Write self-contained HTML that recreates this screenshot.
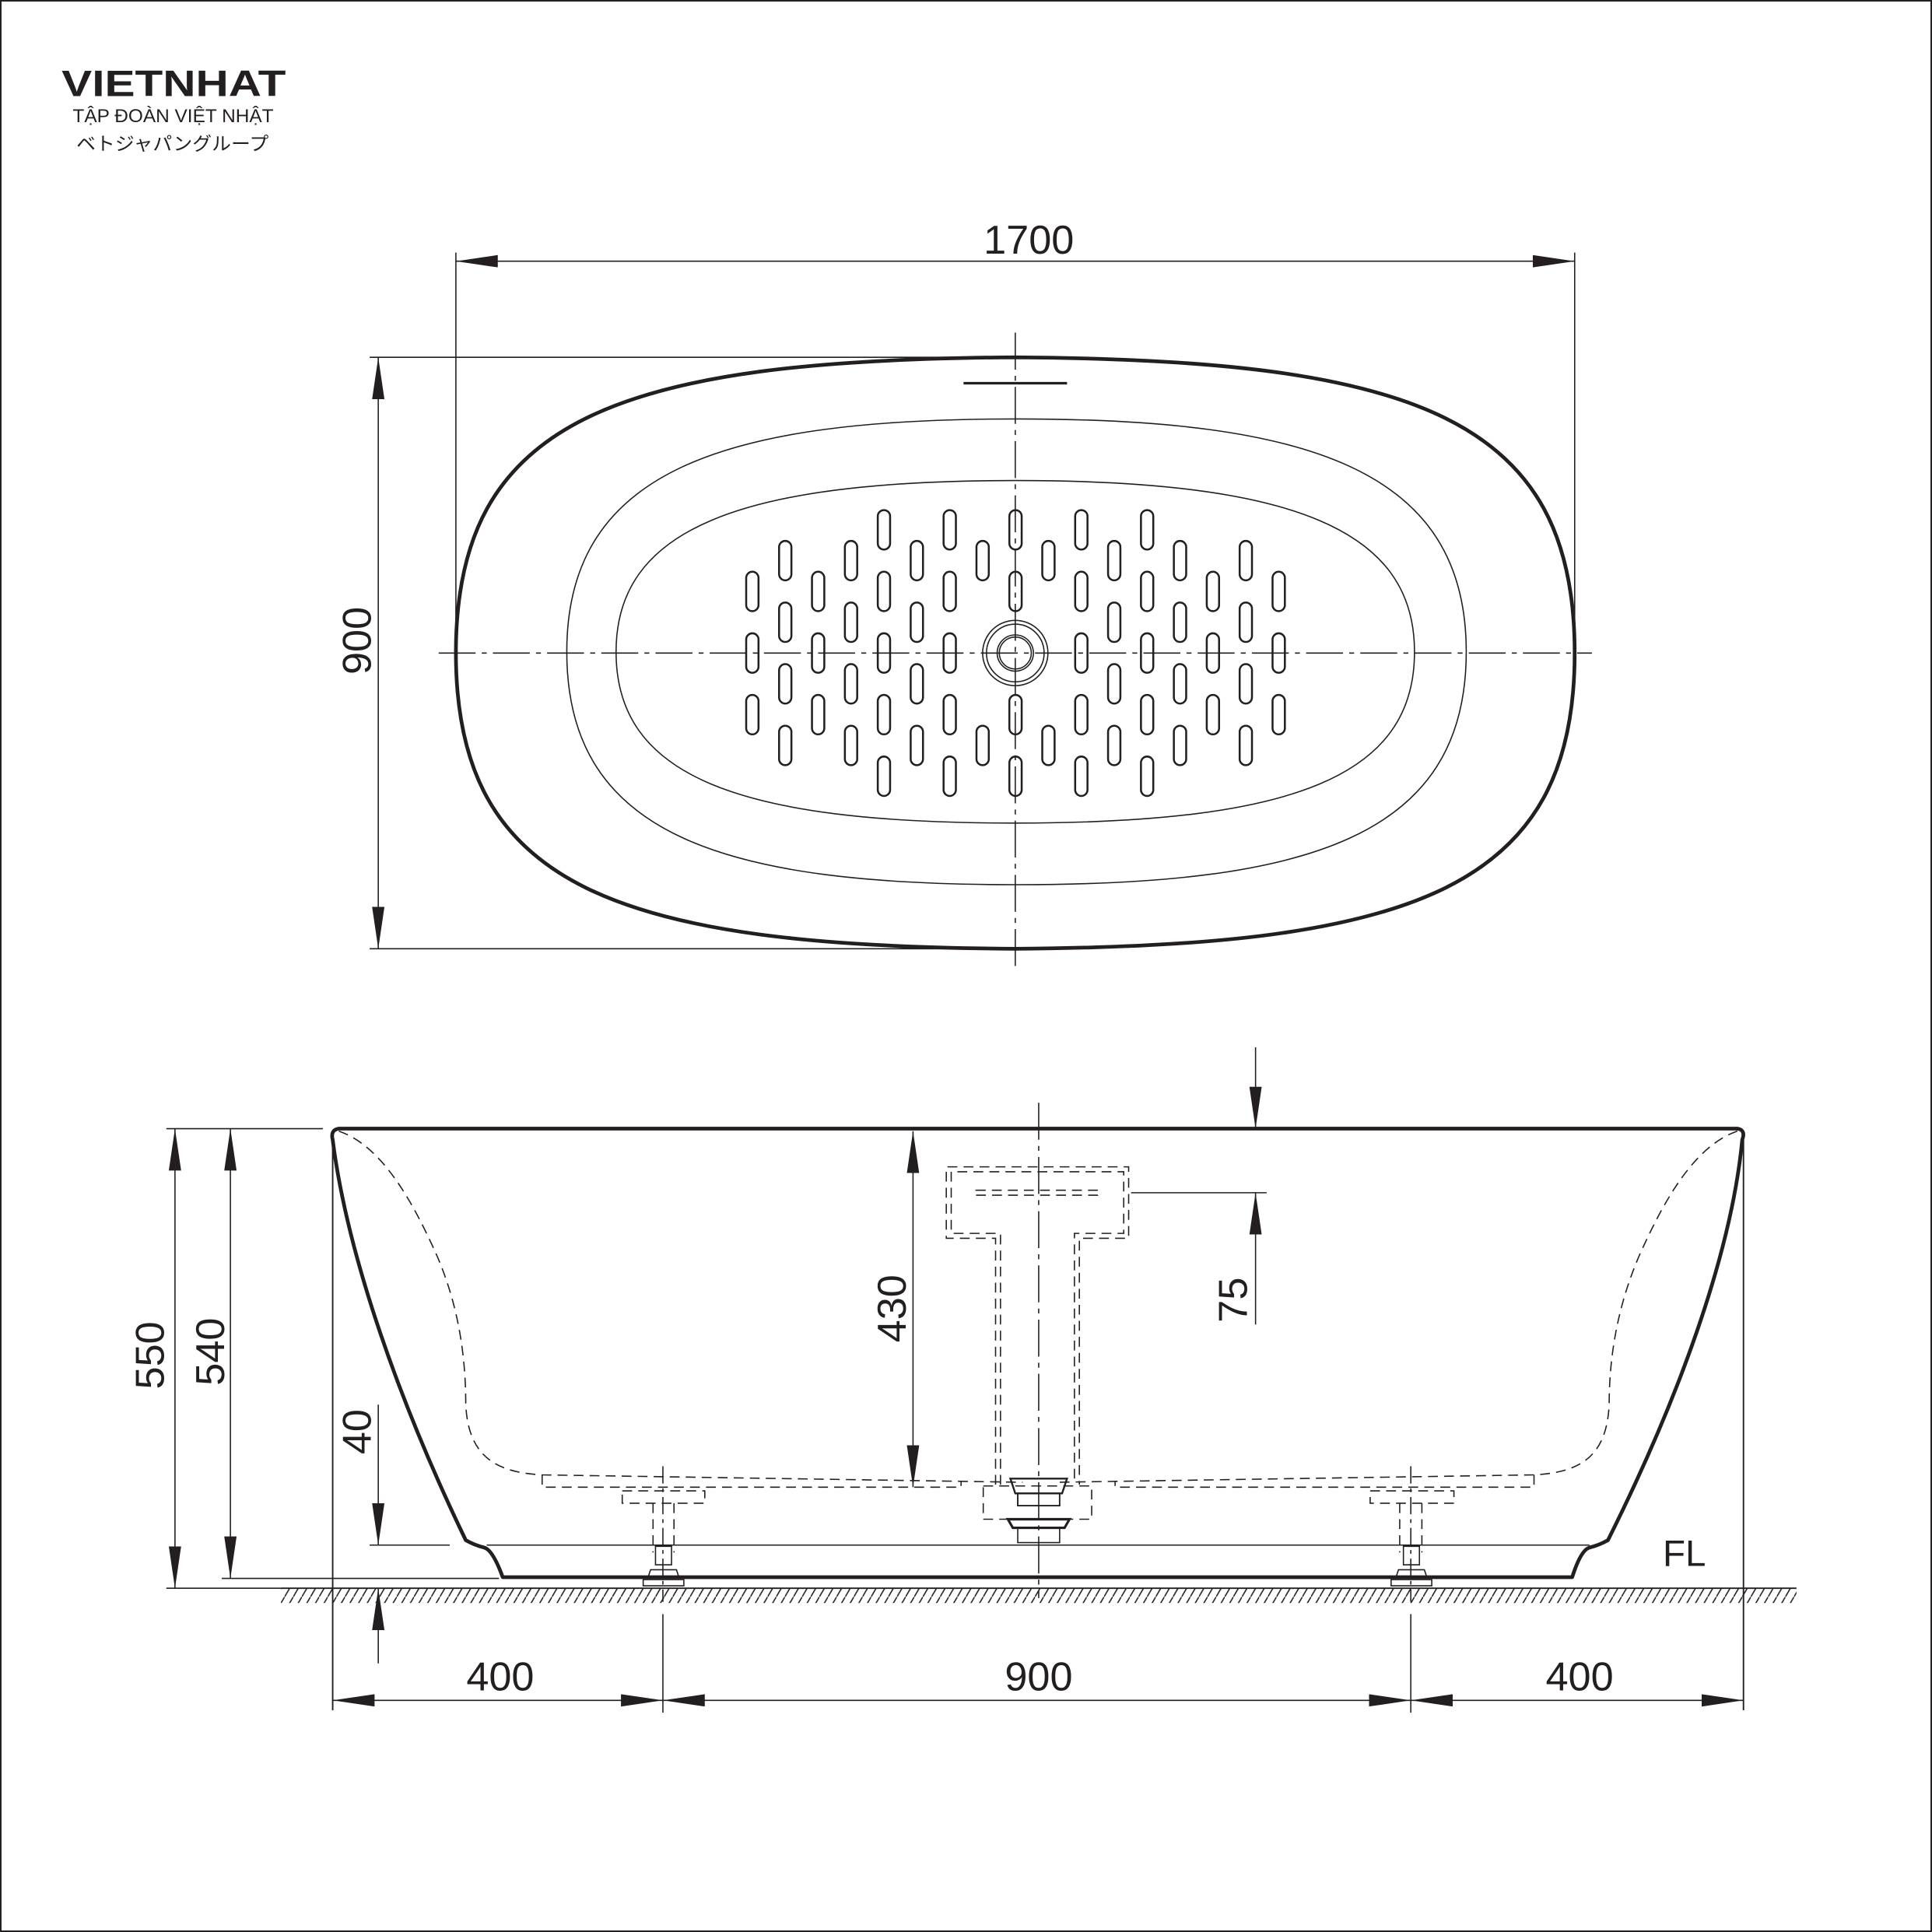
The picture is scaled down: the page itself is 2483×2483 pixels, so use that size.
<!DOCTYPE html>
<html><head><meta charset="utf-8"><style>
html,body{margin:0;padding:0;background:#fff}
svg{display:block}
text{font-family:"Liberation Sans","Noto Sans CJK JP",sans-serif;fill:#231f20}
</style></head><body>
<svg width="2483" height="2483" viewBox="0 0 1568 1568" xmlns="http://www.w3.org/2000/svg">
<defs>
<marker id="a" markerUnits="userSpaceOnUse" markerWidth="36" markerHeight="12" refX="34" refY="5" orient="auto-start-reverse"><path d="M0,0 L34,5 L0,10 z" fill="#231f20"/></marker>
<pattern id="h" patternUnits="userSpaceOnUse" width="7" height="12"><line x1="0" y1="12" x2="7" y2="0" stroke="#231f20" stroke-width="1"/></pattern>
<symbol id="o" overflow="visible"><rect x="-5" y="-16" width="10" height="32" rx="5" fill="none" stroke="#231f20" stroke-width="1.6"/></symbol>
</defs>
<rect x="0.5" y="0.5" width="1567" height="1567" fill="#fff" stroke="#231f20" stroke-width="1.5"/>
<!-- logo -->
<text x="50" y="78" font-size="30" font-weight="bold" textLength="182" lengthAdjust="spacingAndGlyphs">VIETNHAT</text>
<text x="59" y="99" font-size="15" textLength="163" lengthAdjust="spacingAndGlyphs">TẬP ĐOÀN VIỆT NHẬT</text>
<text x="62" y="122" font-size="15" textLength="156" lengthAdjust="spacingAndGlyphs">ベトジャパングループ</text>

<g stroke="#231f20" fill="none">
<!-- top view dims -->
<line x1="370" y1="205" x2="370" y2="530" stroke-width="1"/>
<line x1="1278" y1="205" x2="1278" y2="525" stroke-width="1"/>
<line x1="370" y1="212" x2="1278" y2="212" stroke-width="1" marker-start="url(#a)" marker-end="url(#a)"/>
<line x1="300" y1="290" x2="824" y2="290" stroke-width="1"/>
<line x1="300" y1="770" x2="824" y2="770" stroke-width="1"/>
<line x1="307" y1="290" x2="307" y2="770" stroke-width="1" marker-start="url(#a)" marker-end="url(#a)"/>
<!-- tub top -->
<path d="M824,290 C1150,292 1278,340 1278,530 C1278,720 1150,768 824,770 C500,768 370,720 370,530 C370,340 500,292 824,290 Z" stroke-width="3"/>
<path d="M825,340 C1060,340 1190,380 1190,529 C1190,680 1060,718 825,718 C590,718 460,680 460,529 C460,380 590,340 825,340 Z" stroke-width="1"/>
<path d="M824,390 C1050,390 1148,430 1148,529 C1148,630 1050,668 824,668 C598,668 500,630 500,529 C500,430 598,390 824,390 Z" stroke-width="1"/>
<line x1="782" y1="311" x2="866" y2="311" stroke-width="2"/>
<line x1="356" y1="530" x2="1292" y2="530" stroke-width="1" stroke-dasharray="30,5,4,5"/>
<line x1="824" y1="270" x2="824" y2="785" stroke-width="1" stroke-dasharray="30,5,4,5"/>
<circle cx="824" cy="530" r="26.5" stroke-width="1"/>
<circle cx="824" cy="530" r="23.4" stroke-width="1"/>
<circle cx="824" cy="530" r="14.7" stroke-width="1"/>
<circle cx="824" cy="530" r="13" stroke-width="1"/>
</g>
<g>
<use href="#o" x="610.6" y="480"/><use href="#o" x="610.6" y="530"/><use href="#o" x="610.6" y="580"/>
<use href="#o" x="637.3" y="455"/><use href="#o" x="637.3" y="505"/><use href="#o" x="637.3" y="555"/><use href="#o" x="637.3" y="605"/>
<use href="#o" x="664" y="480"/><use href="#o" x="664" y="530"/><use href="#o" x="664" y="580"/>
<use href="#o" x="690.7" y="455"/><use href="#o" x="690.7" y="505"/><use href="#o" x="690.7" y="555"/><use href="#o" x="690.7" y="605"/>
<use href="#o" x="717.4" y="430"/><use href="#o" x="717.4" y="480"/><use href="#o" x="717.4" y="530"/><use href="#o" x="717.4" y="580"/><use href="#o" x="717.4" y="630"/>
<use href="#o" x="744.1" y="455"/><use href="#o" x="744.1" y="505"/><use href="#o" x="744.1" y="555"/><use href="#o" x="744.1" y="605"/>
<use href="#o" x="770.8" y="430"/><use href="#o" x="770.8" y="480"/><use href="#o" x="770.8" y="530"/><use href="#o" x="770.8" y="580"/><use href="#o" x="770.8" y="630"/>
<use href="#o" x="797.5" y="455"/><use href="#o" x="797.5" y="605"/>
<use href="#o" x="824.2" y="430"/><use href="#o" x="824.2" y="480"/><use href="#o" x="824.2" y="580"/><use href="#o" x="824.2" y="630"/>
<use href="#o" x="850.9" y="455"/><use href="#o" x="850.9" y="605"/>
<use href="#o" x="877.6" y="430"/><use href="#o" x="877.6" y="480"/><use href="#o" x="877.6" y="530"/><use href="#o" x="877.6" y="580"/><use href="#o" x="877.6" y="630"/>
<use href="#o" x="904.3" y="455"/><use href="#o" x="904.3" y="505"/><use href="#o" x="904.3" y="555"/><use href="#o" x="904.3" y="605"/>
<use href="#o" x="931" y="430"/><use href="#o" x="931" y="480"/><use href="#o" x="931" y="530"/><use href="#o" x="931" y="580"/><use href="#o" x="931" y="630"/>
<use href="#o" x="957.7" y="455"/><use href="#o" x="957.7" y="505"/><use href="#o" x="957.7" y="555"/><use href="#o" x="957.7" y="605"/>
<use href="#o" x="984.4" y="480"/><use href="#o" x="984.4" y="530"/><use href="#o" x="984.4" y="580"/>
<use href="#o" x="1011.1" y="455"/><use href="#o" x="1011.1" y="505"/><use href="#o" x="1011.1" y="555"/><use href="#o" x="1011.1" y="605"/>
<use href="#o" x="1037.8" y="480"/><use href="#o" x="1037.8" y="530"/><use href="#o" x="1037.8" y="580"/>
</g>
<text x="835" y="206" font-size="33" text-anchor="middle">1700</text>
<text transform="translate(301,520) rotate(-90)" font-size="33" text-anchor="middle">900</text>

<!-- side view -->
<rect x="228" y="1289" width="1230" height="12" fill="url(#h)"/>
<g stroke="#231f20" fill="none">
<line x1="228" y1="1289" x2="1458" y2="1289" stroke-width="1.2"/>
<!-- outer tub -->
<path d="M275,916 L1410,916 Q1417,917 1414,925 C1405,1020 1360,1140 1305,1250 Q1298,1254 1290,1256 Q1283,1258 1276,1280 L408,1280 Q400,1258 393,1256 Q385,1254 378,1250 C325,1140 282,1020 270,925 Q268,917 275,916 Z" stroke-width="3" stroke-linejoin="round"/>
<!-- inner dashed -->
<g stroke-width="1" stroke-dasharray="8,5">
<path d="M275,918 C310,930 335,975 355,1020 C372,1060 378,1100 378,1140 C380,1180 400,1195 440,1197 L830,1203"/>
<path d="M1410,918 C1375,930 1350,975 1330,1020 C1313,1060 1306,1100 1306,1140 C1304,1180 1285,1195 1245,1197 L858,1203"/>
<path d="M440,1197 L440,1207 L780,1207 L780,1202"/>
<path d="M1245,1197 L1245,1207 L905,1207 L905,1202"/>
<path d="M808,1205 L808,1005 L768,1005 L768,947 L916,947 L916,1005 L876,1005 L876,1205"/>
<path d="M812,1205 L812,1001 L772,1001 L772,951 L912,951 L912,1001 L872,1001 L872,1205"/>
<path d="M792,966 L891,966 Q894,968 891,970 L792,970 Q789,968 792,966"/>
<path d="M798,1206 L886,1206 L886,1233 L798,1233 Z"/>
<path d="M505,1210 L572,1210 L572,1220 L505,1220 Z"/>
<path d="M1112,1210 L1180,1210 L1180,1220 L1112,1220 Z"/>
<path d="M530,1220 L530,1260 M547,1220 L547,1260 M1136,1220 L1136,1260 M1154,1220 L1154,1260"/>
</g>
<!-- drain solid parts -->
<path d="M820,1200 L866,1200 L862,1212 L824,1212 Z" stroke-width="1.5"/>
<path d="M826,1212 L860,1212 L860,1222 L826,1222 Z" stroke-width="1.2"/>
<path d="M818,1233 L868,1233 L864,1240 L822,1240 Z" stroke-width="2"/>
<path d="M826,1240 L860,1240 L860,1252 L826,1252 Z" stroke-width="1"/>
<!-- legs -->
<path d="M532,1255 L545,1255 L545,1270 L532,1270 Z M528,1274 L549,1274 L551,1280 L526,1280 Z M522,1282 L555,1282 L555,1287 L522,1287 Z" stroke-width="1"/>
<path d="M1139,1255 L1152,1255 L1152,1270 L1139,1270 Z M1135,1274 L1156,1274 L1158,1280 L1133,1280 Z M1129,1282 L1162,1282 L1162,1287 L1129,1287 Z" stroke-width="1"/>
<!-- FL line -->
<line x1="300" y1="1254" x2="365" y2="1254" stroke-width="1"/>
<line x1="395" y1="1254" x2="1290" y2="1254" stroke-width="1"/>
<!-- center lines -->
<line x1="843" y1="895" x2="843" y2="1297" stroke-width="1" stroke-dasharray="30,5,4,5"/>
<line x1="538" y1="1190" x2="538" y2="1300" stroke-width="1" stroke-dasharray="14,4,3,4"/>
<line x1="1145" y1="1190" x2="1145" y2="1300" stroke-width="1" stroke-dasharray="14,4,3,4"/>
<!-- extension lines -->
<line x1="135" y1="916" x2="262" y2="916" stroke-width="1"/>
<line x1="180" y1="1281" x2="405" y2="1281" stroke-width="1"/>
<line x1="135" y1="1289" x2="228" y2="1289" stroke-width="1"/>
<line x1="270" y1="925" x2="270" y2="1388" stroke-width="1.2"/>
<line x1="1415" y1="925" x2="1415" y2="1388" stroke-width="1.2"/>
<line x1="538" y1="1310" x2="538" y2="1390" stroke-width="1"/>
<line x1="1145" y1="1310" x2="1145" y2="1390" stroke-width="1"/>
<line x1="918" y1="968" x2="1028" y2="968" stroke-width="1"/>
<!-- dimension lines -->
<line x1="142" y1="916" x2="142" y2="1289" stroke-width="1" marker-start="url(#a)" marker-end="url(#a)"/>
<line x1="187" y1="916" x2="187" y2="1281" stroke-width="1" marker-start="url(#a)" marker-end="url(#a)"/>
<line x1="307" y1="1140" x2="307" y2="1254" stroke-width="1" marker-end="url(#a)"/>
<line x1="307" y1="1350" x2="307" y2="1289" stroke-width="1" marker-end="url(#a)"/>
<line x1="741" y1="918" x2="741" y2="1207" stroke-width="1" marker-start="url(#a)" marker-end="url(#a)"/>
<line x1="1019" y1="1075" x2="1019" y2="968" stroke-width="1" marker-end="url(#a)"/>
<line x1="1019" y1="850" x2="1019" y2="916" stroke-width="1" marker-end="url(#a)"/>
<line x1="270" y1="1380" x2="538" y2="1380" stroke-width="1" marker-start="url(#a)" marker-end="url(#a)"/>
<line x1="538" y1="1380" x2="1145" y2="1380" stroke-width="1" marker-start="url(#a)" marker-end="url(#a)"/>
<line x1="1145" y1="1380" x2="1415" y2="1380" stroke-width="1" marker-start="url(#a)" marker-end="url(#a)"/>
</g>
<text transform="translate(133,1100) rotate(-90)" font-size="33" text-anchor="middle">550</text>
<text transform="translate(182,1097) rotate(-90)" font-size="33" text-anchor="middle">540</text>
<text transform="translate(301,1162) rotate(-90)" font-size="33" text-anchor="middle">40</text>
<text transform="translate(735,1062) rotate(-90)" font-size="33" text-anchor="middle">430</text>
<text transform="translate(1012,1055) rotate(-90)" font-size="33" text-anchor="middle">75</text>
<text x="406" y="1372" font-size="33" text-anchor="middle">400</text>
<text x="843" y="1372" font-size="33" text-anchor="middle">900</text>
<text x="1282" y="1372" font-size="33" text-anchor="middle">400</text>
<text x="1367" y="1271" font-size="30" text-anchor="middle">FL</text>
</svg>
</body></html>
